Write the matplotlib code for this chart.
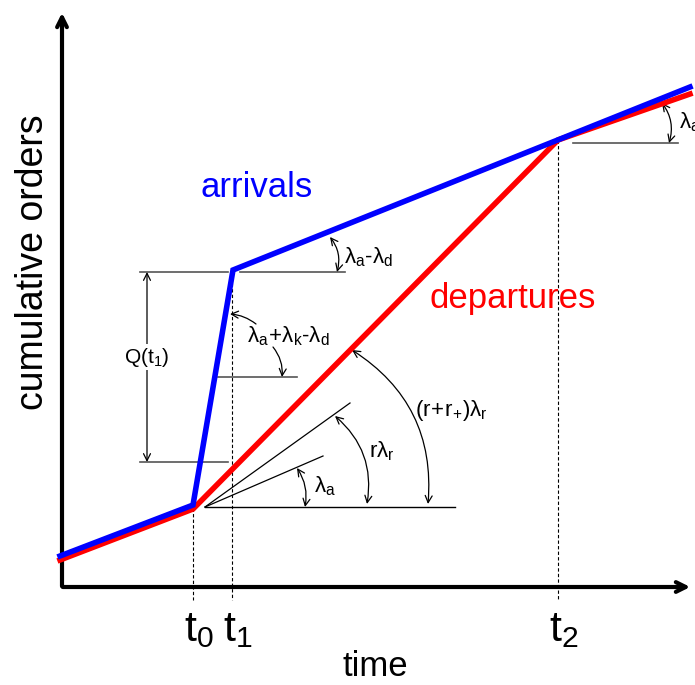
import matplotlib.pyplot as plt

plt.rcParams['font.family'] = ['Liberation Sans', 'DejaVu Sans']
plt.rcParams['mathtext.fontset'] = 'custom'
plt.rcParams['mathtext.rm'] = 'Liberation Sans'
plt.rcParams['mathtext.it'] = 'Liberation Sans'

# schematic coordinates (time -> right, orders -> down in screen units)
t_marks = [193, 232, 558]
t_labels = [r'$\mathrm{t}_0$', r'$\mathrm{t}_1$', r'$\mathrm{t}_2$']

arr_t = [60, 193, 233, 690]
arr_y = [556, 505, 270, 87]
dep_t = [60, 193, 558, 690]
dep_y = [560, 509, 140, 94]

BLUE = '#0000ff'
RED = '#ff0000'
GRAY = '#555555'

fig = plt.figure(figsize=(6.95, 6.85), dpi=100)
ax = fig.add_axes([0, 0, 1, 1])
ax.set_xlim(0, 695)
ax.set_ylim(685, 0)
ax.axis('off')

# axes with arrows
ax.annotate('', xy=(62, 10), xytext=(62, 589),
            arrowprops=dict(arrowstyle='->,head_length=0.7,head_width=0.35', lw=3, color='k'))
ax.annotate('', xy=(693, 587), xytext=(60, 587),
            arrowprops=dict(arrowstyle='->,head_length=0.7,head_width=0.35', lw=3, color='k'))

# dashed time markers
for x, y0 in zip(t_marks, [508, 272, 140]):
    ax.plot([x, x], [y0, 600], color='k', lw=0.8, ls=(0, (3, 2)))
for x, lab in zip(t_marks, t_labels):
    ax.text(x + 6, 630, lab, fontsize=31, ha='center', va='center')

ax.plot(dep_t, dep_y, color=RED, lw=4, solid_joinstyle='miter', zorder=4)
ax.plot(arr_t, arr_y, color=BLUE, lw=4, solid_joinstyle='miter', zorder=5)

ax.text(375, 666, 'time', fontsize=25, ha='center', va='center')
ax.text(33, 262, 'cumulative orders', fontsize=27, rotation=90, ha='center', va='center')
ax.text(257, 187, 'arrivals', fontsize=25, color=BLUE, ha='center', va='center')
ax.text(513, 298, 'departures', fontsize=25, color=RED, ha='center', va='center')

# reference lines
ref = [((140, 228), 272), ((140, 228), 462), ((240, 345), 272),
       ((218, 297), 377), ((573, 678), 143)]
for (x0, x1), y in ref:
    ax.plot([x0, x1], [y, y], color=GRAY, lw=1.2)

# fan from t0
ax.plot([205, 455], [507, 507], color='k', lw=1)
ax.plot([205, 350], [507, 403], color='k', lw=0.9)
ax.plot([205, 323], [507, 456], color='k', lw=0.9)

ap = dict(arrowstyle='<->,head_length=0.5,head_width=0.25', lw=0.9, color='k',
          shrinkA=0, shrinkB=0)
ax.annotate('', xy=(147, 272), xytext=(147, 462), arrowprops=ap)
ax.text(147, 357, r'$\mathrm{Q(t}_1\mathrm{)}$', fontsize=15, ha='center', va='center',
        bbox=dict(fc='white', ec='none', pad=1))

def arc(p0, p1, rad):
    ax.annotate('', xy=p0, xytext=p1,
                arrowprops=dict(ap, connectionstyle='arc3,rad=%s' % rad))

arc((330, 237), (337, 272), 0.25)
arc((297, 468), (305, 507), 0.2)
arc((335, 416), (367, 504), 0.28)
arc((352, 350), (428, 504), 0.3)
arc((662, 103), (669, 143), 0.25)

one = dict(arrowstyle='->,head_length=0.5,head_width=0.25', lw=0.9, color='k',
           shrinkA=0, shrinkB=0)
ax.annotate('', xy=(230, 314), xytext=(256, 324),
            arrowprops=dict(one, connectionstyle='arc3,rad=0.15'))
ax.annotate('', xy=(282, 377), xytext=(273, 347),
            arrowprops=dict(one, connectionstyle='arc3,rad=-0.2'))

fs = 16
ax.text(344, 257, r'$\mathrm{λ_a‐λ_d}$', fontsize=fs, va='center')
ax.text(247, 336, r'$\mathrm{λ_a\!+\!λ_k‐λ_d}$', fontsize=fs, va='center')
ax.text(314, 486, r'$\mathrm{λ_a}$', fontsize=fs, va='center')
ax.text(369, 451, r'$\mathrm{rλ_r}$', fontsize=fs, va='center')
ax.text(415, 410, r'$\mathrm{(r\!+\!r_{\!+\!})λ_r}$', fontsize=fs, va='center')
ax.text(679, 122, r'$\mathrm{λ_a}$', fontsize=fs, va='center')

fig.savefig('out.png', dpi=100)
